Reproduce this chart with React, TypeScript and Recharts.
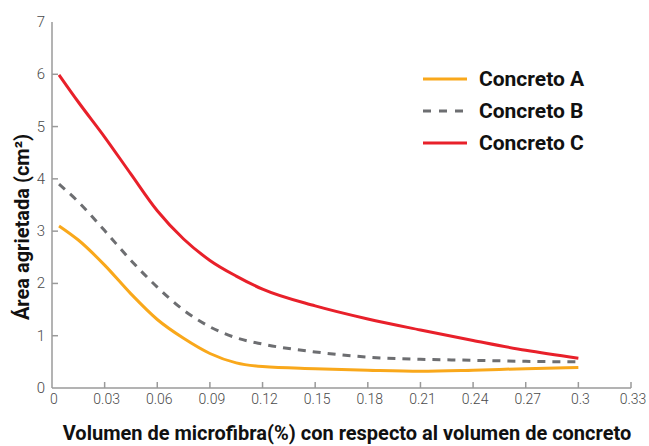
import React from 'react'
import { LineChart, Line, XAxis, YAxis, Legend, Label } from 'recharts'

// volumen de microfibra (%)
const fibra = [0.004, 0.015, 0.03, 0.045, 0.06, 0.075, 0.09, 0.105, 0.12, 0.15, 0.18, 0.21, 0.24, 0.27, 0.3]
// área agrietada (cm²)
const concretoA = [3.1, 2.83, 2.35, 1.8, 1.31, 0.95, 0.66, 0.48, 0.41, 0.37, 0.34, 0.32, 0.34, 0.37, 0.39]
const concretoB = [3.9, 3.56, 3.01, 2.44, 1.93, 1.49, 1.17, 0.96, 0.84, 0.69, 0.59, 0.55, 0.53, 0.51, 0.5]
const concretoC = [5.99, 5.47, 4.8, 4.09, 3.39, 2.85, 2.44, 2.14, 1.89, 1.57, 1.32, 1.11, 0.91, 0.72, 0.57]

const xTicks = [0, 0.03, 0.06, 0.09, 0.12, 0.15, 0.18, 0.21, 0.24, 0.27, 0.3, 0.33]
const yTicks = [0, 1, 2, 3, 4, 5, 6, 7]

const data = fibra.map((x, i) => ({
  x,
  a: concretoA[i],
  b: concretoB[i],
  c: concretoC[i]
}))

const COLORS = {
  a: '#F9A81B',
  b: '#6D6E71',
  c: '#E8202A',
  axis: '#9A9A9A',
  tick: '#4A4A4A'
}

const FONT = 'Roboto, "Noto Sans", sans-serif'

const XTick = (props: any) => {
  const { x, y, payload } = props
  return (
    <g>
      {payload.value !== 0 && (
        <line x1={x} x2={x} y1={y} y2={y - 6} stroke={COLORS.axis} strokeWidth={1.5} />
      )}
      <text x={x + 2} y={y + 16} textAnchor="middle" fontSize={14} fontWeight={300} fill={COLORS.tick} fontFamily={FONT}>
        {payload.value}
      </text>
    </g>
  )
}

const YTick = (props: any) => {
  const { x, y, payload } = props
  return (
    <g>
      {payload.value !== 0 && payload.value !== 7 && (
        <line x1={x} x2={x + 6} y1={y} y2={y} stroke={COLORS.axis} strokeWidth={1.5} />
      )}
      <text x={x - 7} y={y + 5} textAnchor="end" fontSize={15} fontWeight={300} fill={COLORS.tick} fontFamily={FONT}>
        {payload.value}
      </text>
    </g>
  )
}

const renderLegend = (props: any) => {
  const { payload } = props
  return (
    <div style={{ fontFamily: FONT }}>
      {payload.map((entry: any) => (
        <div key={entry.value} style={{ display: 'flex', alignItems: 'center', height: 32 }}>
          <svg width={44} height={4}>
            <line
              x1={0}
              x2={44}
              y1={2}
              y2={2}
              stroke={entry.color}
              strokeWidth={3}
              strokeDasharray={entry.payload && entry.payload.strokeDasharray ? '8 8' : undefined}
            />
          </svg>
          <span style={{ marginLeft: 12, fontSize: 21, fontWeight: 700, color: '#111' }}>{entry.value}</span>
        </div>
      ))}
    </div>
  )
}

export default function App() {
  return (
    <div style={{ width: 649, height: 446 }}>
      <style>{'body{margin:0}'}</style>
      <LineChart width={649} height={446} data={data} margin={{ top: 22, right: 18, bottom: 0, left: 0 }}>
        <XAxis
          dataKey="x"
          type="number"
          domain={[0, 0.33]}
          ticks={xTicks}
          interval={0}
          height={58}
          tickSize={0}
          tickMargin={0}
          tickLine={false}
          tick={<XTick />}
          axisLine={{ stroke: COLORS.axis, strokeWidth: 1.5 }}
        >
          <Label
            content={() => (
              <text x={347} y={440} textAnchor="middle" fontSize={20} fontWeight={700} fill="#111" fontFamily={FONT}>
                Volumen de microfibra(%) con respecto al volumen de concreto
              </text>
            )}
          />
        </XAxis>
        <YAxis
          type="number"
          domain={[0, 7]}
          ticks={yTicks}
          interval={0}
          width={52}
          tickSize={0}
          tickMargin={0}
          tickLine={false}
          tick={<YTick />}
          axisLine={{ stroke: COLORS.axis, strokeWidth: 1.5 }}
        >
          <Label
            content={() => (
              <text
                transform="translate(29,227) rotate(-90)"
                textAnchor="middle"
                fontSize={20}
                fontWeight={700}
                fill="#111"
                fontFamily={FONT}
              >
                Área agrietada (cm²)
              </text>
            )}
          />
        </YAxis>
        <Legend
          layout="vertical"
          align="center"
          verticalAlign="middle"
          content={renderLegend}
          wrapperStyle={{ top: 63, left: 423, width: 'auto' }}
        />
        <Line
          type="monotone"
          dataKey="a"
          name="Concreto A"
          stroke={COLORS.a}
          strokeWidth={3}
          dot={false}
          isAnimationActive={false}
        />
        <Line
          type="monotone"
          dataKey="b"
          name="Concreto B"
          stroke={COLORS.b}
          strokeWidth={3}
          strokeDasharray="8 7"
          dot={false}
          isAnimationActive={false}
        />
        <Line
          type="monotone"
          dataKey="c"
          name="Concreto C"
          stroke={COLORS.c}
          strokeWidth={3}
          dot={false}
          isAnimationActive={false}
        />
      </LineChart>
    </div>
  )
}
